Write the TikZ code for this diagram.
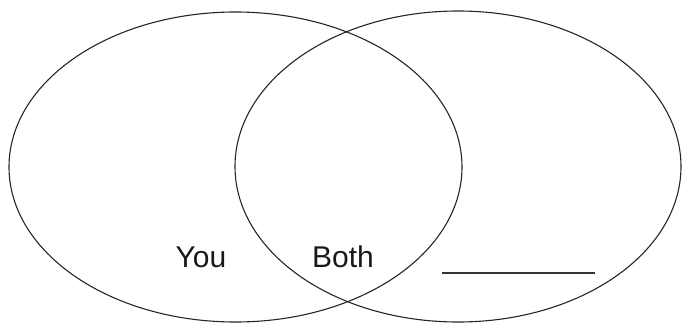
\documentclass[tikz,border=0pt]{standalone}
\usepackage{fontspec}
\setmainfont{Liberation Sans}
\usetikzlibrary{shapes.geometric}
\begin{document}
\begin{tikzpicture}[x=1pt,y=-1pt,
  circ/.style={draw=black!85,line width=1.1pt,shape=ellipse,inner sep=0pt,outer sep=0pt},
  lbl/.style={anchor=base,inner sep=0pt,font=\fontsize{30}{35}\selectfont,text=black!90}]
\useasboundingbox (0,0) rectangle (683,324);
\node[circ,minimum width=453pt,minimum height=310pt] (left) at (235.5,167) {};
\node[circ,minimum width=446pt,minimum height=311pt] (right) at (458,166.5) {};
\node[lbl] (you) at (201,267) {You};
\node[lbl] (both) at (343,267) {Both};
\coordinate (blankA) at (442,272.5);
\coordinate (blankB) at (595,272.5);
\draw[line width=2pt,black!80] (blankA) -- (blankB);
\end{tikzpicture}
\end{document}
